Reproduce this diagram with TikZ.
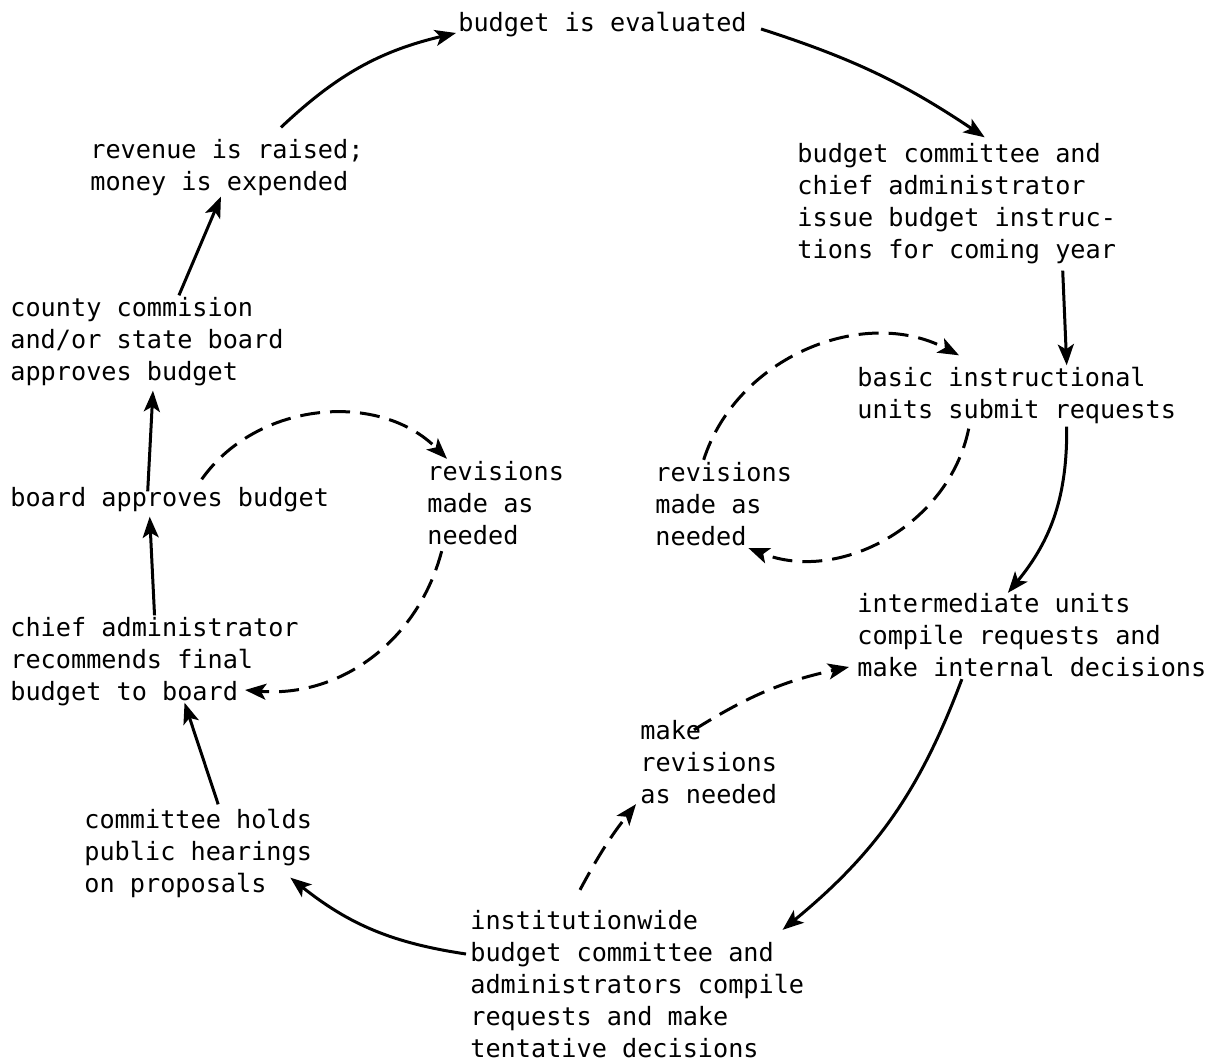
\documentclass[tikz,border=0pt]{standalone}
\usepackage{fontspec}
\setmonofont{DejaVu Sans Mono}
\usetikzlibrary{arrows.meta}

\begin{document}
\begin{tikzpicture}[x=0.5pt,y=-0.5pt,
	stage/.style={anchor=west,align=left,inner sep=0pt,font=\fontsize{12.6}{16}\selectfont\ttfamily},
	flow/.style={-{Stealth[length=10.5pt,width=8pt,inset=2.5pt]},line width=1.5pt},
	revise/.style={flow,dash pattern=on 10pt off 5pt}]
	\useasboundingbox (0,0) rectangle (1214,1063);
	% the stages of the cycle
	\node [stage] (eval) at (458,25) {budget is evaluated};
	\node [stage] (revenue) at (90,168) {revenue is raised;\\money is expended};
	\node [stage] (bcomm) at (797,204) {budget committee and\\chief administrator\\issue budget instruc-\\tions for coming year};
	\node [stage] (county) at (10,342) {county commision\\and/or state board\\approves budget};
	\node [stage] (basic) at (857,396) {basic instructional\\units submit requests};
	\node [stage] (board) at (10,500) {board approves budget};
	\node [stage] (revleft) at (427,503) {revisions\\made as\\needed};
	\node [stage] (revright) at (655,504) {revisions\\made as\\needed};
	\node [stage] (interm) at (857,635) {intermediate units\\compile requests and\\make internal decisions};
	\node [stage] (chief) at (10,662) {chief administrator\\recommends final\\budget to board};
	\node [stage] (makerev) at (640,762) {make\\revisions\\as needed};
	\node [stage] (hearings) at (84,853) {committee holds\\public hearings\\on proposals};
	\node [stage] (inst) at (470,984) {institutionwide\\budget committee and\\administrators compile\\requests and make\\tentative decisions};
	% main cycle
	\draw [flow] ([xshift=27pt,yshift=6pt]revenue.north) to[bend left=15] ([xshift=-1pt,yshift=-4pt]eval.west);
	\draw [flow] ([xshift=7pt,yshift=-2pt]eval.east) to[bend left=8] ([xshift=14pt,yshift=3pt]bcomm.north);
	\draw [flow] ([xshift=53pt,yshift=-3pt]bcomm.south) to ([xshift=25pt,yshift=1pt]basic.north);
	\draw [flow] ([xshift=25pt,yshift=-1pt]basic.south) to[bend left=20] ([xshift=-12pt]interm.north);
	\draw [flow] ([xshift=-35pt,yshift=-1pt]interm.south) to[bend left=15] ([xshift=-11pt,yshift=-10pt]inst.north east);
	\draw [flow] ([xshift=-2pt,yshift=15pt]inst.west) to[bend left=15] ([xshift=-11pt,yshift=10pt]hearings.south east);
	\draw [flow] ([xshift=10pt,yshift=2pt]hearings.north) to ([xshift=15pt,yshift=2pt]chief.south);
	\draw [flow] ([yshift=1pt]chief.north) to ([xshift=-10pt,yshift=-2pt]board.south);
	\draw [flow] ([xshift=-11pt,yshift=-2pt]board.north) to ([xshift=3pt,yshift=-2pt]county.south);
	\draw [flow] ([xshift=16pt,yshift=1pt]county.north) to ([xshift=-3pt]revenue.south);
	% revision loops
	\draw [revise] ([xshift=16pt,yshift=4pt]board.north) to[bend left=50] ([xshift=10pt,yshift=1pt]revleft.north west);
	\draw [revise] ([xshift=-27pt,yshift=-3pt]revleft.south) to[bend left=40] ([xshift=-27pt,yshift=-14pt]chief.east);
	\draw [revise] ([xshift=-10pt,yshift=1pt]revright.north) to[bend left=50] ([xshift=51pt,yshift=6pt]basic.north west);
	\draw [revise] ([xshift=-24pt,yshift=-2pt]basic.south) to[bend left=50] ([xshift=-22pt,yshift=-22pt]revright.east);
	\draw [revise] ([xshift=55pt,yshift=10pt]inst.north west) to[bend left=5] ([xshift=-2pt]makerev.south west);
	\draw [revise] ([xshift=27pt,yshift=-5pt]makerev.north west) to[bend left=10] ([xshift=-4pt,yshift=-16pt]interm.west);
\end{tikzpicture}
\end{document}
